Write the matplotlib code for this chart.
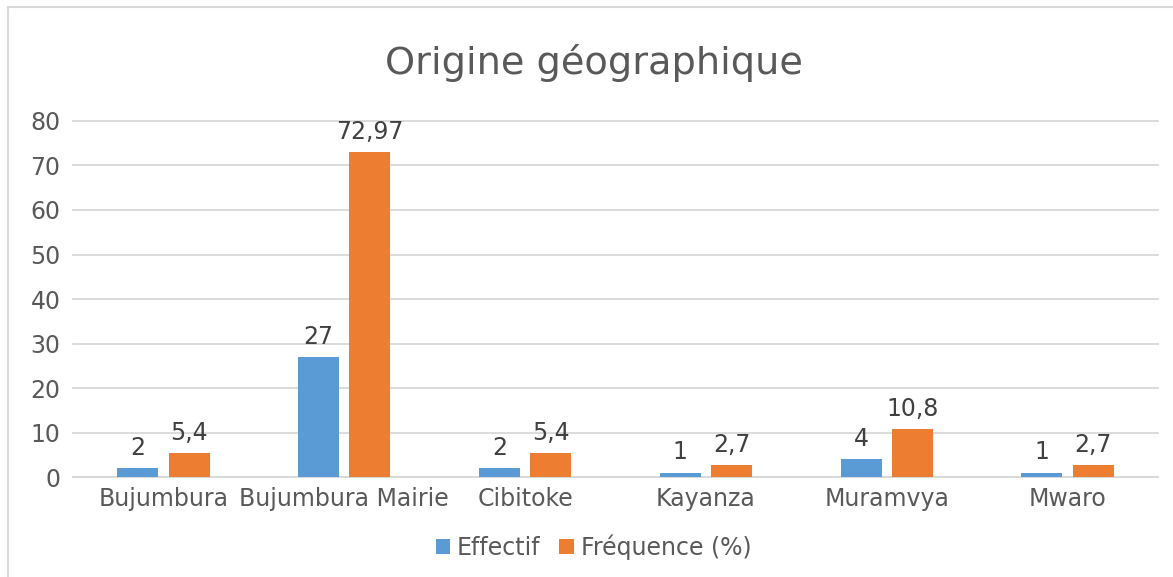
import numpy as np
import matplotlib.pyplot as plt
from matplotlib.patches import Rectangle

regions = ['Bujumbura', 'Bujumbura Mairie', 'Cibitoke', 'Kayanza', 'Muramvya', 'Mwaro']
effectif = [2, 27, 2, 1, 4, 1]
frequence = [5.4, 72.97, 5.4, 2.7, 10.8, 2.7]
freq_labels = ['5,4', '72,97', '5,4', '2,7', '10,8', '2,7']

blue = '#5B9BD5'
orange = '#ED7D31'
grey_txt = '#595959'

fig = plt.figure(figsize=(11.73, 5.77), dpi=100)
ax = fig.add_axes([0.0622, 0.1733, 0.925, 0.617])

# chart frame like the spreadsheet export
fig.patches.append(Rectangle((8/1173, -0.05), 1.2, 1 - 7/577 + 0.05, transform=fig.transFigure,
                             fill=False, edgecolor='#D9D9D9', linewidth=1.5))

x = np.arange(len(regions))
w = 0.227
b1 = ax.bar(x - 0.142, effectif, w, color=blue, label='Effectif', zorder=3)
b2 = ax.bar(x + 0.142, frequence, w, color=orange, label='Fréquence (%)', zorder=3)

for r, v in zip(b1, effectif):
    ax.annotate(str(v), (r.get_x() + r.get_width()/2, r.get_height()), xytext=(0, 6),
                textcoords='offset points', ha='center', va='bottom', fontsize=17, color='#404040')
for r, t in zip(b2, freq_labels):
    ax.annotate(t, (r.get_x() + r.get_width()/2, r.get_height()), xytext=(0, 6),
                textcoords='offset points', ha='center', va='bottom', fontsize=17, color='#404040')

ax.set_xlim(-0.5, len(regions) - 0.5)
ax.set_ylim(0, 80)
ax.set_yticks(range(0, 81, 10))
ax.set_xticks(x)
ax.set_xticklabels(regions)
ax.tick_params(axis='both', length=0, labelsize=17, labelcolor=grey_txt)
ax.tick_params(axis='y', pad=9)
ax.tick_params(axis='x', pad=7)
ax.grid(axis='y', color='#D9D9D9', linewidth=1.3, zorder=0)
for gl in ax.get_ygridlines():
    gl.set_clip_on(False)
for s in ['top', 'right', 'left']:
    ax.spines[s].set_visible(False)
ax.spines['bottom'].set_color('#D9D9D9')
ax.spines['bottom'].set_linewidth(1.3)

fig.text(0.506, 0.89, 'Origine géographique', ha='center', va='center', fontsize=27.5, color=grey_txt)

leg = fig.legend(loc='center', bbox_to_anchor=(0.506, 0.052), ncol=2, frameon=False,
                 fontsize=17, handlelength=0.6, handleheight=0.6, handletextpad=0.3,
                 columnspacing=0.8)
for t in leg.get_texts():
    t.set_color(grey_txt)

fig.savefig('out.png', dpi=100)
